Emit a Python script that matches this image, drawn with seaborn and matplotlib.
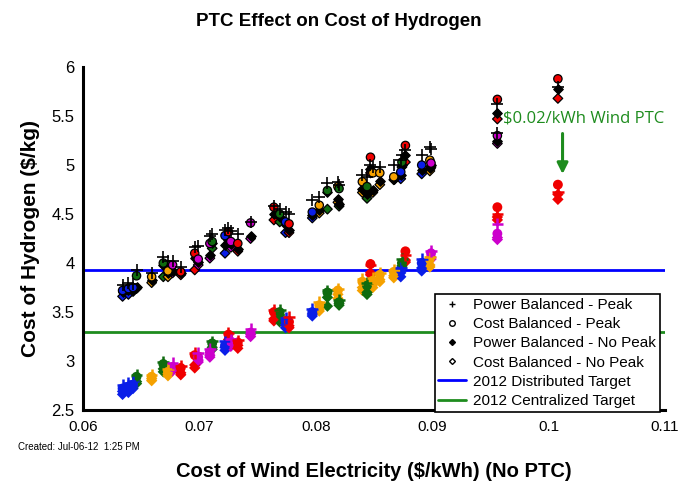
import numpy as np
import pandas as pd
import matplotlib
matplotlib.use('Agg')
import matplotlib.pyplot as plt
from matplotlib.lines import Line2D
import seaborn as sns

# ── Datos ─────────────────────────────────────────────────────────────────────
# cada caso: costo de electricidad eólica, color del caso
case_x = [0.0634, 0.0639, 0.0643, 0.0646, 0.0659, 0.0669, 0.0673, 0.0677, 0.0684,
          0.0696, 0.0699, 0.0709, 0.0711, 0.0722, 0.0725, 0.0727, 0.0733, 0.0744,
          0.0764, 0.0769, 0.0774, 0.0777, 0.0797, 0.0803, 0.0810, 0.0819, 0.0820,
          0.0840, 0.0844, 0.0847, 0.0849, 0.0855, 0.0867, 0.0873, 0.0874, 0.0877,
          0.0891, 0.0898, 0.0899, 0.0956, 0.0956, 0.1008]
case_color = ['blue', 'blue', 'blue', 'green', 'orange', 'green', 'orange', 'magenta', 'red',
              'red', 'magenta', 'magenta', 'green', 'blue', 'red', 'magenta', 'red', 'magenta',
              'red', 'green', 'blue', 'red', 'blue', 'orange', 'green', 'orange', 'green',
              'orange', 'green', 'red', 'orange', 'orange', 'orange', 'blue', 'green', 'red',
              'blue', 'orange', 'magenta', 'red', 'magenta', 'red']

# sin PTC (grupo superior)
pb_peak   = [3.78, 3.80, 3.79, 3.93, 3.90, 4.06, 4.02, 4.02, 3.96, 4.16, 4.17, 4.28, 4.30, 4.34,
             4.36, 4.33, 4.30, 4.42, 4.58, 4.55, 4.52, 4.50, 4.64, 4.67, 4.82, 4.83, 4.80, 4.90,
             4.88, 5.00, 4.98, 4.98, 5.00, 5.05, 5.10, 5.15, 5.10, 5.18, 5.16, 5.62, 5.33, 5.80]
cb_peak   = [3.72, 3.74, 3.75, 3.87, 3.86, 4.00, 3.92, 3.98, 3.91, 4.10, 4.04, 4.20, 4.22, 4.28,
             4.32, 4.22, 4.20, 4.41, 4.57, 4.50, 4.42, 4.40, 4.52, 4.59, 4.74, 4.78, 4.76, 4.83,
             4.78, 5.08, 4.92, 4.92, 4.88, 4.93, 5.03, 5.20, 5.00, 5.05, 5.02, 5.67, 5.30, 5.88]
pb_nopeak = [3.70, 3.72, 3.73, 3.76, 3.83, 3.98, 3.90, 3.92, 3.90, 4.05, 4.01, 4.08, 4.20, 4.18,
             4.24, 4.19, 4.14, 4.28, 4.50, 4.47, 4.39, 4.34, 4.49, 4.54, 4.72, 4.65, 4.60, 4.76,
             4.70, 4.96, 4.75, 4.84, 4.86, 4.90, 5.00, 5.10, 4.95, 4.97, 5.00, 5.53, 5.25, 5.78]
cb_nopeak = [3.66, 3.68, 3.71, 3.74, 3.80, 3.86, 3.86, 3.90, 3.88, 3.93, 3.98, 4.05, 4.15, 4.10,
             4.20, 4.16, 4.12, 4.25, 4.44, 4.42, 4.31, 4.31, 4.46, 4.51, 4.55, 4.62, 4.58, 4.72,
             4.66, 4.92, 4.72, 4.80, 4.85, 4.86, 4.98, 5.03, 4.91, 4.94, 4.98, 5.47, 5.22, 5.68]

# con PTC de $0.02/kWh (grupo inferior)
pb_peak_ptc   = [2.76, 2.78, 2.80, 2.86, 2.86, 2.99, 2.92, 2.98, 2.95, 3.08, 3.08, 3.12, 3.20, 3.20,
                 3.29, 3.22, 3.21, 3.33, 3.52, 3.52, 3.44, 3.45, 3.53, 3.60, 3.72, 3.74, 3.62, 3.84,
                 3.80, 3.98, 3.85, 3.90, 3.93, 3.95, 4.04, 4.08, 4.04, 4.06, 4.12, 4.50, 4.40, 4.72]
cb_peak_ptc   = [2.72, 2.74, 2.76, 2.84, 2.84, 2.97, 2.89, 2.94, 2.93, 3.06, 3.04, 3.09, 3.18, 3.16,
                 3.27, 3.20, 3.19, 3.29, 3.50, 3.50, 3.41, 3.40, 3.50, 3.57, 3.70, 3.72, 3.60, 3.81,
                 3.77, 3.99, 3.82, 3.88, 3.91, 3.93, 4.00, 4.12, 4.00, 4.04, 4.10, 4.57, 4.30, 4.80]
pb_nopeak_ptc = [2.69, 2.71, 2.74, 2.79, 2.82, 2.92, 2.87, 2.92, 2.88, 2.96, 3.01, 3.06, 3.14, 3.14,
                 3.22, 3.18, 3.16, 3.27, 3.43, 3.47, 3.37, 3.36, 3.48, 3.53, 3.65, 3.68, 3.59, 3.75,
                 3.70, 3.90, 3.78, 3.83, 3.87, 3.90, 3.97, 4.03, 3.95, 3.98, 4.06, 4.47, 4.26, 4.70]
cb_nopeak_ptc = [2.66, 2.68, 2.72, 2.77, 2.80, 2.89, 2.85, 2.90, 2.86, 2.93, 2.99, 3.04, 3.12, 3.11,
                 3.19, 3.15, 3.13, 3.25, 3.41, 3.40, 3.34, 3.34, 3.46, 3.51, 3.56, 3.64, 3.57, 3.72,
                 3.68, 3.88, 3.75, 3.81, 3.85, 3.86, 3.95, 4.01, 3.92, 3.96, 4.04, 4.44, 4.24, 4.65]

target_dist = 3.93
target_cent = 3.30

# ── Colores y estilo ──────────────────────────────────────────────────────────
pal = {'blue': '#0a1ee8', 'green': '#0f6b0f', 'orange': '#f5a100',
       'magenta': '#cc00cc', 'red': '#f00000'}
BLUE_LINE = '#0000ff'
GREEN_LINE = '#1e8c1e'
ANNOT = '#1e8c1e'

sns.set_theme(style='white')
plt.rcParams.update({
    'font.family': ['Liberation Sans', 'DejaVu Sans'],
    'text.color': 'black',
    'axes.labelcolor': 'black',
    'xtick.color': 'black',
    'ytick.color': 'black',
})

rows = []
series = {'pbp': (pb_peak, pb_peak_ptc), 'cbp': (cb_peak, cb_peak_ptc),
          'pbn': (pb_nopeak, pb_nopeak_ptc), 'cbn': (cb_nopeak, cb_nopeak_ptc)}
for key, (sin, con) in series.items():
    for x, c, y0, y1 in zip(case_x, case_color, sin, con):
        rows.append(dict(x=x, color=c, tipo=key, ptc=False, y=y0))
        rows.append(dict(x=x, color=c, tipo=key, ptc=True, y=y1))
df = pd.DataFrame(rows)

fig = plt.figure(figsize=(6.78, 4.87), dpi=100, facecolor='white')
ax = fig.add_axes([0.1224, 0.158, 0.8584, 0.7043])

ax.axhline(target_dist, color=BLUE_LINE, lw=2.0, zorder=1)
ax.axhline(target_cent, color=GREEN_LINE, lw=2.0, zorder=1)

markers = {'pbp': '+', 'cbp': 'o', 'pbn': 'D', 'cbn': 'D'}
sizes = {'pbp': 70, 'cbp': 36, 'pbn': 24, 'cbn': 24}

# grupo inferior (con PTC): todo del color del caso
for key in ['cbn', 'pbn', 'cbp', 'pbp']:
    sub = df[(df.tipo == key) & df.ptc]
    if markers[key] == '+':
        sns.scatterplot(data=sub, x='x', y='y', hue='color', palette=pal, marker='+',
                        s=sizes[key], linewidth=1.8, legend=False, ax=ax, zorder=3)
    else:
        sns.scatterplot(data=sub, x='x', y='y', hue='color', palette=pal, marker=markers[key],
                        s=sizes[key] * 1.4, linewidth=0, legend=False, ax=ax, zorder=3)

# grupo superior (sin PTC): borde negro
for key in ['cbn', 'pbn', 'cbp', 'pbp']:
    sub = df[(df.tipo == key) & ~df.ptc]
    if key == 'pbp':
        sns.scatterplot(data=sub, x='x', y='y', color='black', marker='+',
                        s=sizes[key], linewidth=1.2, legend=False, ax=ax, zorder=4)
    elif key == 'pbn':
        sns.scatterplot(data=sub, x='x', y='y', color='black', marker='D',
                        s=sizes[key], edgecolor='black', linewidth=0.8, legend=False,
                        ax=ax, zorder=4)
    else:
        sns.scatterplot(data=sub, x='x', y='y', hue='color', palette=pal, marker=markers[key],
                        s=sizes[key], edgecolor='black', linewidth=0.9, legend=False,
                        ax=ax, zorder=4)

ax.set_xlim(0.06, 0.11)
ax.set_ylim(2.5, 6)
ax.set_xticks([0.06, 0.07, 0.08, 0.09, 0.1, 0.11])
ax.set_xticklabels(['0.06', '0.07', '0.08', '0.09', '0.1', '0.11'])
ax.set_yticks([2.5, 3, 3.5, 4, 4.5, 5, 5.5, 6])
ax.set_yticklabels(['2.5', '3', '3.5', '4', '4.5', '5', '5.5', '6'])
ax.tick_params(direction='in', length=5, width=1, colors='black', labelsize=12)
ax.tick_params(axis='x', pad=7, labelsize=11)
ax.tick_params(axis='y', pad=6)
for side in ['top', 'right']:
    ax.spines[side].set_visible(False)
for side in ['left', 'bottom']:
    ax.spines[side].set_color('black')
    ax.spines[side].set_linewidth(2.2)

ax.set_xlabel(r'Cost of Wind Electricity (\$/kWh) (No PTC)', fontsize=14.5,
              fontweight='bold', labelpad=20)
ax.set_ylabel(r'Cost of Hydrogen (\$/kg)', fontsize=15, fontweight='bold', labelpad=8)
fig.text(0.5, 0.955, 'PTC Effect on Cost of Hydrogen', ha='center', va='center',
         fontsize=13.5, fontweight='bold')
fig.text(0.027, 0.082, 'Created: Jul-06-12  1:25 PM', ha='left', va='center', fontsize=7)

# anotación del PTC
ax.text(0.0961, 5.48, r'\$0.02/kWh Wind PTC', color=ANNOT, fontsize=12,
        family=['Open Sans', 'DejaVu Sans'], ha='left', va='center')
ax.annotate('', xy=(0.1012, 4.88), xytext=(0.1012, 5.35),
            arrowprops=dict(arrowstyle='-|>', color=ANNOT, lw=2.2, mutation_scale=16))

# leyenda
handles = [
    Line2D([], [], ls='none', marker='+', color='black', ms=5, mew=1),
    Line2D([], [], ls='none', marker='o', mfc='white', mec='black', ms=4, mew=1),
    Line2D([], [], ls='none', marker='D', mfc='black', mec='black', ms=3),
    Line2D([], [], ls='none', marker='D', mfc='white', mec='black', ms=3, mew=1),
    Line2D([], [], color=BLUE_LINE, lw=2),
    Line2D([], [], color=GREEN_LINE, lw=2),
]
labels = ['Power Balanced - Peak', 'Cost Balanced - Peak', 'Power Balanced - No Peak',
          'Cost Balanced - No Peak', '2012 Distributed Target', '2012 Centralized Target']
leg = ax.legend(handles, labels, loc='lower left', bbox_to_anchor=(0.604, -0.005),
                fontsize=11, frameon=True, fancybox=False, framealpha=1,
                edgecolor='black', handlelength=1.8, handletextpad=0.5,
                labelspacing=0.34, borderpad=0.25, borderaxespad=0)
leg.get_frame().set_linewidth(1.2)

fig.savefig('out.png', dpi=100, facecolor='white')
